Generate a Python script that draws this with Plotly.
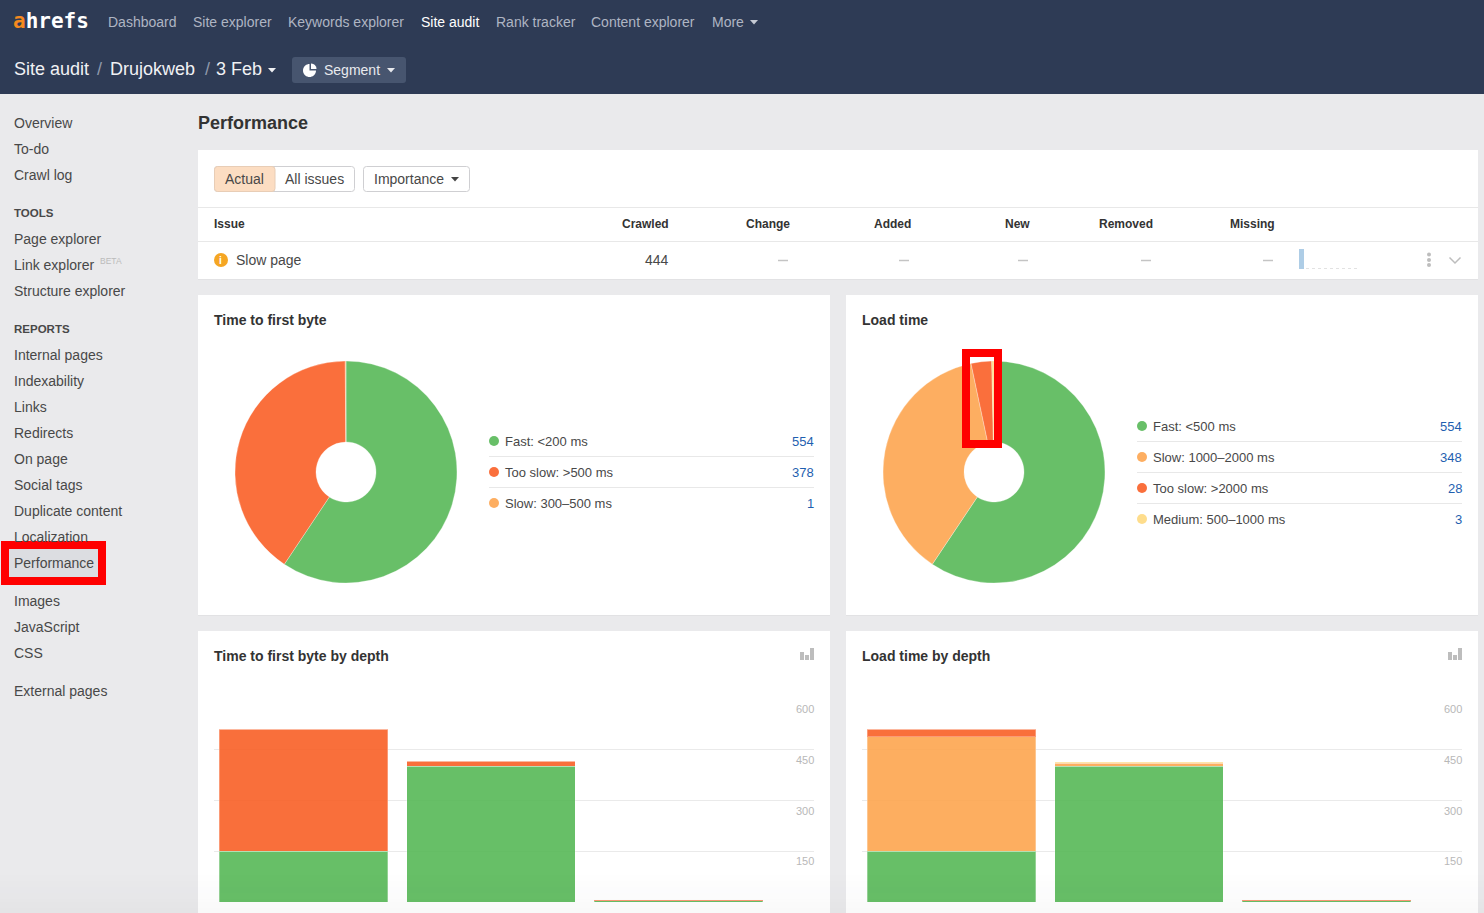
import math
import plotly.graph_objects as go

# ---------- data ----------
ttfb_labels = ["Fast: <200 ms", "Too slow: >500 ms", "Slow: 300–500 ms"]
ttfb_values = [554, 378, 1]
load_labels = ["Fast: <500 ms", "Slow: 1000–2000 ms", "Too slow: >2000 ms", "Medium: 500–1000 ms"]
load_values = [554, 348, 28, 3]

depth_cats = [0, 1, 2]
ttfb_fast = [150, 401, 3]
ttfb_tooslow = [360, 15, 3]
ttfb_slow = [0, 1, 0]
load_fast = [150, 401, 3]
load_slow = [339, 9, 0]
load_tooslow = [22, 2, 4]
load_medium = [0, 3, 0]
y_ticks = [0, 150, 300, 450, 600]
depth_tick_vals = [0, 1, 2, 2.71]
depth_tick_text = ["0", "1", "2", "3"]

nav_items = [("Dashboard", 108), ("Site explorer", 193), ("Keywords explorer", 288), ("Site audit", 421),
             ("Rank tracker", 496), ("Content explorer", 591), ("More", 712)]
side_items = [("Overview", 123), ("To-do", 149), ("Crawl log", 175), ("Page explorer", 239), ("Link explorer", 265),
              ("Structure explorer", 291), ("Internal pages", 355), ("Indexability", 381), ("Links", 407),
              ("Redirects", 433), ("On page", 459), ("Social tags", 485), ("Duplicate content", 511),
              ("Localization", 537), ("Performance", 563), ("Images", 601), ("JavaScript", 627), ("CSS", 653),
              ("External pages", 691)]
table_heads = [("Crawled", 669), ("Change", 790), ("Added", 911), ("New", 1030), ("Removed", 1153), ("Missing", 1275)]
dash_cols = [783, 904, 1023, 1146, 1268]

# ---------- styles ----------
W, H = 1484, 913
FONT = "Liberation Sans, Arial, sans-serif"
GREEN, RED, ORANGE, YELLOW = "#68BF68", "#FA6F3C", "#FDAE61", "#FEDD8C"
BGREEN, BRED, BORANGE, BYELLOW = "rgba(87,184,87,.9)", "rgba(248,95,38,.9)", "rgba(253,165,79,.9)", "rgba(254,215,120,.9)"
PAGE, HEAD = "#EAEAEC", "#2E3B55"
TEXT = "#484848"
px = lambda x: x / W
py = lambda y: 1 - y / H

shapes, annos = [], []


def T(x, y, text, size=14, color=TEXT, anchor="left", family=FONT):
    annos.append(dict(xref="paper", yref="paper", x=px(x), y=py(y), text=text, showarrow=False,
                      xanchor=anchor, yanchor="middle", borderpad=0, borderwidth=0,
                      font=dict(size=size, color=color, family=family)))


def rect(x0, y0, x1, y1, fill, line=None, layer="below", lw=1):
    shapes.append(dict(type="rect", xref="paper", yref="paper", x0=px(x0), x1=px(x1), y0=py(y0), y1=py(y1),
                       fillcolor=fill, line=dict(width=lw if line else 0, color=line or "rgba(0,0,0,0)"), layer=layer))


def hline(x0, x1, y, color="#E8E8E8", w=1):
    shapes.append(dict(type="line", xref="paper", yref="paper", x0=px(x0), x1=px(x1), y0=py(y), y1=py(y),
                       line=dict(width=w, color=color), layer="below"))


def poly(pts, fill, line=None, layer="below", close=True, lw=1):
    d = "M " + " L ".join(f"{px(a):.6f} {py(b):.6f}" for a, b in pts) + (" Z" if close else "")
    shapes.append(dict(type="path", xref="paper", yref="paper", path=d, fillcolor=fill,
                       line=dict(width=lw if line else 0, color=line or "rgba(0,0,0,0)"), layer=layer))


def rrect(x0, y0, x1, y1, r, fill, line=None):
    X, Y = px, py
    d = (f"M {X(x0+r)} {Y(y0)} L {X(x1-r)} {Y(y0)} Q {X(x1)} {Y(y0)} {X(x1)} {Y(y0+r)} "
         f"L {X(x1)} {Y(y1-r)} Q {X(x1)} {Y(y1)} {X(x1-r)} {Y(y1)} L {X(x0+r)} {Y(y1)} "
         f"Q {X(x0)} {Y(y1)} {X(x0)} {Y(y1-r)} L {X(x0)} {Y(y0+r)} Q {X(x0)} {Y(y0)} {X(x0+r)} {Y(y0)} Z")
    shapes.append(dict(type="path", xref="paper", yref="paper", path=d, fillcolor=fill,
                       line=dict(width=1 if line else 0, color=line or "rgba(0,0,0,0)"), layer="below"))


def caret(cx, cy, color, s=4):
    poly([(cx - s, cy - 2), (cx + s, cy - 2), (cx, cy + 2.5)], color)


def disc(cx, cy, r, color):
    shapes.append(dict(type="circle", xref="paper", yref="paper", x0=px(cx - r), x1=px(cx + r),
                       y0=py(cy - r), y1=py(cy + r), fillcolor=color, line=dict(width=0), layer="below"))


# ---------- chrome ----------
rect(0, 0, W, 94, HEAD)
annos.append(dict(xref="paper", yref="paper", x=px(13), y=py(21), showarrow=False, xanchor="left", yanchor="middle",
                  borderpad=0, borderwidth=0,
                  text='<b><span style="color:#F58A1F">a</span>hrefs</b>',
                  font=dict(size=21, color="#FFFFFF", family="DejaVu Sans Mono")))
for name, x in nav_items:
    T(x, 22, name, 14, "#FFFFFF" if name == "Site audit" else "#AEB5C3")
caret(754, 22, "#C5CAD4", 4)
T(14, 69, "Site audit", 18, "#F0F1F4")
T(97, 69, "/", 18, "#8F98AB")
T(110, 69, "Drujokweb", 18, "#F0F1F4")
T(205, 69, "/", 18, "#8F98AB")
T(216, 69, "3 Feb", 18, "#F0F1F4")
caret(272, 70, "#F0F1F4", 4)
rrect(292, 57, 406, 83, 3, "#47556F")
ang = [i * math.pi / 18 for i in range(0, 28)]
poly([(309.5, 70.5)] + [(309.5 + 6.5 * math.cos(a), 70.5 + 6.5 * math.sin(a)) for a in ang], "#FFFFFF")
ang2 = [-math.pi / 2 + i * math.pi / 12 for i in range(0, 7)]
poly([(311, 69)] + [(311 + 5.5 * math.cos(a), 69 + 5.5 * math.sin(a)) for a in ang2], "#FFFFFF")
T(324, 70, "Segment", 14, "#E8EAEE")
caret(391, 70, "#E8EAEE", 4)

# sidebar
rect(9, 549, 98, 577, "#DCDDE1")
for name, y in side_items:
    T(14, y, name, 14)
T(100, 261, "BETA", 8.5, "#BBBBBB")
T(14, 213, "<b>TOOLS</b>", 11.5)
T(14, 329, "<b>REPORTS</b>", 11.5)

T(198, 123, "<b>Performance</b>", 18, "#333333")

# cards
for (a, b, c, d) in [(198, 150, 1478, 279), (198, 295, 830, 615), (846, 295, 1478, 615), (198, 631, 830, 913), (846, 631, 1478, 913)]:
    rect(a, b, c, d, "#FFFFFF")
    if d < 900:
        hline(a, c, d + 0.5, "#E2E2E4")

# filter row
rrect(214.5, 166.5, 354.5, 191.5, 3, "#FFFFFF", "#CFCFD2")
rrect(214.5, 166.5, 275, 191.5, 3, "#FCDDC2", "#E8CDB6")
rrect(363.5, 166.5, 469.5, 191.5, 3, "#FFFFFF", "#CFCFD2")
T(225, 179, "Actual", 14)
T(285, 179, "All issues", 14)
T(374, 179, "Importance", 14)
caret(455, 179, "#444444", 4)

# table
hline(198, 1478, 207.5)
hline(198, 1478, 241.5)
T(214, 224, "<b>Issue</b>", 12, "#333333")
for name, x in table_heads:
    T(x, 224, f"<b>{name}</b>", 12, "#333333", "right")
disc(221, 260, 7, "#F5A623")
T(221, 260, "<b>i</b>", 10, "#FFFFFF", "center")
T(236, 260, "Slow page", 14)
T(669, 260, "444", 14, TEXT, "right")
for x in dash_cols:
    hline(x - 5, x + 5, 260.5, "#C4C4C4", 1.5)
rect(1299, 249, 1304, 269, "#AECDE6")
shapes.append(dict(type="line", xref="paper", yref="paper", x0=px(1306), x1=px(1358), y0=py(268.5), y1=py(268.5),
                   line=dict(width=1, color="#E2E2E2", dash="dot"), layer="below"))
for dy in (254.5, 260, 265):
    disc(1429, dy, 2, "#BDBDBD")
poly([(1449.5, 257.5), (1455, 263), (1460.5, 257.5)], "rgba(0,0,0,0)", "#BDBDBD", close=False, lw=1.5)

# panel titles
T(214, 320, "<b>Time to first byte</b>", 14, "#333333")
T(862, 320, "<b>Load time</b>", 14, "#333333")
T(214, 656, "<b>Time to first byte by depth</b>", 14, "#333333")
T(862, 656, "<b>Load time by depth</b>", 14, "#333333")
for off in (0, 648):
    rect(800 + off, 652, 804 + off, 660, "#BDBDBD")
    rect(805 + off, 655, 809 + off, 660, "#BDBDBD")
    rect(810 + off, 648, 814 + off, 660, "#BDBDBD")


# pie legends
def legend(x0, x1, ys, labels, values, colors):
    for i, (y, lab, val, col) in enumerate(zip(ys, labels, values, colors)):
        disc(x0 + 5, int(y), 5, col)
        T(x0 + 16, y, lab.replace("<", "&lt;"), 13)
        T(x1, y, str(val), 13, "#1F5FB0", "right")
        if i < len(ys) - 1:
            hline(x0, x1, int(y) + 15.5)


ttfb_colors = [GREEN, RED, ORANGE]
load_colors = [GREEN, ORANGE, RED, YELLOW]
legend(489, 814, [441, 472, 503], ttfb_labels, ttfb_values, ttfb_colors)
legend(1137, 1462, [426.4, 457, 488.4, 519], load_labels, load_values, load_colors)

# ---------- traces ----------
fig = go.Figure()


def pie(values, labels, colors, x0, x1):
    fig.add_trace(go.Pie(values=values, labels=labels, sort=False, direction="clockwise", rotation=0, hole=30 / 111,
                         marker=dict(colors=colors, line=dict(color="rgba(255,255,255,.6)", width=0.5)),
                         textinfo="none", showlegend=False, hoverinfo="label+value",
                         domain=dict(x=[px(x0), px(x1)], y=[py(583), py(361)])))


pie(ttfb_values, ttfb_labels, ttfb_colors, 235, 457)
pie(load_values, load_labels, load_colors, 883, 1105)


def bars(series, ax):
    for name, vals, col in series:
        fig.add_trace(go.Bar(x=depth_cats, y=vals, name=name, width=0.9, showlegend=False,
                             marker=dict(color=col, line=dict(width=1, color="rgba(255,255,255,.3)")),
                             xaxis="x" + ax, yaxis="y" + ax))


bars([("Fast", ttfb_fast, BGREEN), ("Too slow", ttfb_tooslow, BRED), ("Slow", ttfb_slow, BORANGE)], "")
bars([("Fast", load_fast, BGREEN), ("Slow", load_slow, BORANGE), ("Too slow", load_tooslow, BRED),
      ("Medium", load_medium, BYELLOW)], "2")


def xax(x0, center0):
    return dict(domain=[px(x0), px(x0 + 600)], range=[(x0 - center0) / 187.5, (x0 + 600 - center0) / 187.5],
                tickvals=depth_tick_vals, ticktext=depth_tick_text, showgrid=False, zeroline=False, ticks="",
                showline=False, ticklabelstandoff=7, tickfont=dict(size=11, color="#AAAAAA", family=FONT))


def yax(anchor):
    return dict(domain=[py(902), py(699)], range=[0, 600], tickvals=y_ticks, showgrid=True, gridcolor="#EAEAEA",
                gridwidth=1, zeroline=False, showticklabels=False, ticks="", anchor=anchor)


for ref, right in (("y", 814), ("y2", 1462)):
    for v in y_ticks[1:]:
        annos.append(dict(xref="paper", yref=ref, x=px(right), y=v, yshift=-10, text=str(v), showarrow=False,
                          xanchor="right", yanchor="middle", borderpad=0, borderwidth=0,
                          font=dict(size=11, color="#B8B8B8", family=FONT)))

# highlight frames + bottom fade
for (a, b, c, d) in [(5, 545, 102, 581), (966, 353, 998, 444)]:
    rect(a, b, c, d, "rgba(0,0,0,0)", "#FF0000", "above", 8)
for y in range(872, 913, 3):
    rect(0, y, W, y + 3, f"rgba(40,40,50,{0.03 * (y - 872) / 41:.4f})", None, "above")

fig.update_layout(width=W, height=H, margin=dict(l=0, r=0, t=0, b=0, autoexpand=False), autosize=False, barmode="stack",
                  paper_bgcolor=PAGE, plot_bgcolor="rgba(0,0,0,0)", font=dict(family=FONT),
                  xaxis=xax(214, 303.5), yaxis=yax("x"), xaxis2=xax(862, 951.5), yaxis2=yax("x2"),
                  shapes=shapes, annotations=annos, hovermode="closest")

fig.write_html("out.html", config=dict(displayModeBar=False),
               post_script="document.documentElement.style.margin='0';document.body.style.margin='0';document.documentElement.style.overflow='hidden';document.body.style.overflow='hidden';")
